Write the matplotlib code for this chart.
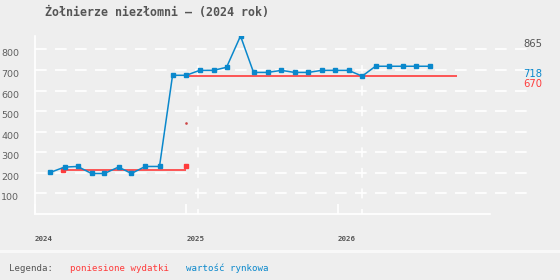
import matplotlib
matplotlib.use("Agg")
import matplotlib.pyplot as plt

# ---- data ----
title = "Żołnierze niezłomni – (2024 rok)"
market_x = [2024.104, 2024.198, 2024.284, 2024.376, 2024.461, 2024.554, 2024.639,
            2024.730, 2024.824, 2024.910, 2025.000, 2025.088, 2025.180, 2025.266,
            2025.358, 2025.444, 2025.536, 2025.628, 2025.714, 2025.806, 2025.892,
            2025.984, 2026.070, 2026.160, 2026.248, 2026.340, 2026.432, 2026.518,
            2026.610]
market_y = [202, 228, 231, 197, 197, 228, 197, 231, 231, 674, 674, 698, 698, 713,
            865, 688, 688, 698, 688, 688, 698, 698, 698, 670, 718, 718, 718, 718, 718]
cost_seg1_x = [2024.191, 2025.0]
cost_seg1_y = [212, 212]
cost_seg2_x = [2025.0, 2026.785]
cost_seg2_y = [670, 670]
cost_pts_x = [2024.191, 2025.0]
cost_pts_y = [212, 231]
cost_dot_x = [2025.0]
cost_dot_y = [440]
year_ticks = [2024, 2025, 2026]
year_labels = ["2024", "2025", "2026"]
vgrid_x = [2025.081, 2026.156]
ygrid = [100, 200, 300, 400, 500, 600, 700, 800]
right_labels = [(865, "865", "#555555"), (718, "718", "#0a88cc"), (670, "670", "#ff3b3b")]
legend_items = [("poniesione wydatki", "#ff3b3b"), ("wartość rynkowa", "#0a88cc")]

BG = "#eeeeee"
BLUE = "#0a88cc"
RED = "#ff3b3b"
GRAY = "#555555"
plt.rcParams["lines.scale_dashes"] = False

W, H = 560, 280
fig = plt.figure(figsize=(5.6, 2.8), dpi=100, facecolor=BG)

left_px, right_px, top_px, bot_px = 34.5, 526.7, 36.0, 214.0
ax = fig.add_axes([left_px / W, 1 - bot_px / H, (right_px - left_px) / W, (bot_px - top_px) / H])
ax.set_facecolor(BG)
px_per_year = 151.7
ax.set_xlim(2024, 2024 + (right_px - left_px) / px_per_year)
ax.set_ylim(0, 865)

for s in ["top", "right"]:
    ax.spines[s].set_visible(False)
ax.spines["left"].set_color("white")
ax.spines["left"].set_linewidth(1.2)
ax.spines["bottom"].set_color("white")
ax.spines["bottom"].set_linewidth(1.2)
ax.spines["bottom"].set_bounds(2024, 2027.0)

for v in ygrid:
    ax.axhline(v, color="white", lw=1.2, dashes=(8.4, 6.0), zorder=1)
for xv in vgrid_x:
    ax.plot([xv, xv], [0, 745], color="white", lw=1.1,
            linestyle=(3.6, (7.2, 7.6)), zorder=1)

ax.set_yticks(ygrid)
ax.set_yticklabels([str(v) for v in ygrid])
ax.tick_params(axis="y", length=0, pad=11, labelsize=6.8, labelcolor="#606060")
for lab in ax.get_yticklabels():
    lab.set_verticalalignment("top")
    lab.set_family("DejaVu Sans")

ax.set_xticks(year_ticks)
ax.set_xticklabels(year_labels)
ax.tick_params(axis="x", direction="in", length=7.5, width=1.2, color="white",
               pad=16, labelsize=5.4, labelcolor=GRAY)
for lab in ax.get_xticklabels():
    lab.set_horizontalalignment("left")
    lab.set_family("DejaVu Sans Mono")
    lab.set_weight("bold")

# cost series
ax.plot(cost_seg1_x, cost_seg1_y, color=RED, lw=1.2, zorder=3, solid_capstyle="butt")
ax.plot(cost_seg2_x, cost_seg2_y, color=RED, lw=1.2, zorder=3, solid_capstyle="butt")
ax.plot(cost_pts_x, cost_pts_y, ls="none", marker="s", ms=3.2, color=RED, zorder=4)
ax.plot(cost_dot_x, cost_dot_y, ls="none", marker="s", ms=0.8, color="#cc4444", zorder=4)

# market series
ax.plot(market_x, market_y, color=BLUE, lw=1.1, marker="s", ms=3.0, zorder=5)

for v, t, c in right_labels:
    ax.annotate(t, xy=(1.0, v), xycoords=("axes fraction", "data"),
                xytext=(-2.2, -2.2), textcoords="offset points",
                ha="left", va="top", color=c, fontsize=7.2,
                family="DejaVu Sans", annotation_clip=False)

fig.text(45 / W, 1 - 15.7 / H, title, ha="left", va="baseline",
         family="DejaVu Sans Mono", weight="bold", fontsize=8.4, color=GRAY)

# legend band
fig.patches.append(plt.Rectangle((0, 1 - 253.3 / H), 1, 3.3 / H, transform=fig.transFigure,
                                 facecolor="#f8f8f8", edgecolor="none"))
fig.text(9 / W, 1 - 270.7 / H, "Legenda:", ha="left", va="baseline",
         family="DejaVu Sans Mono", fontsize=6.6, color=GRAY)
fig.text(69.7 / W, 1 - 270.7 / H, legend_items[0][0], ha="left", va="baseline",
         family="DejaVu Sans Mono", fontsize=6.6, color=legend_items[0][1])
fig.text(186 / W, 1 - 270.7 / H, legend_items[1][0], ha="left", va="baseline",
         family="DejaVu Sans Mono", fontsize=6.6, color=legend_items[1][1])

fig.savefig("out.png", dpi=100, facecolor=BG)
